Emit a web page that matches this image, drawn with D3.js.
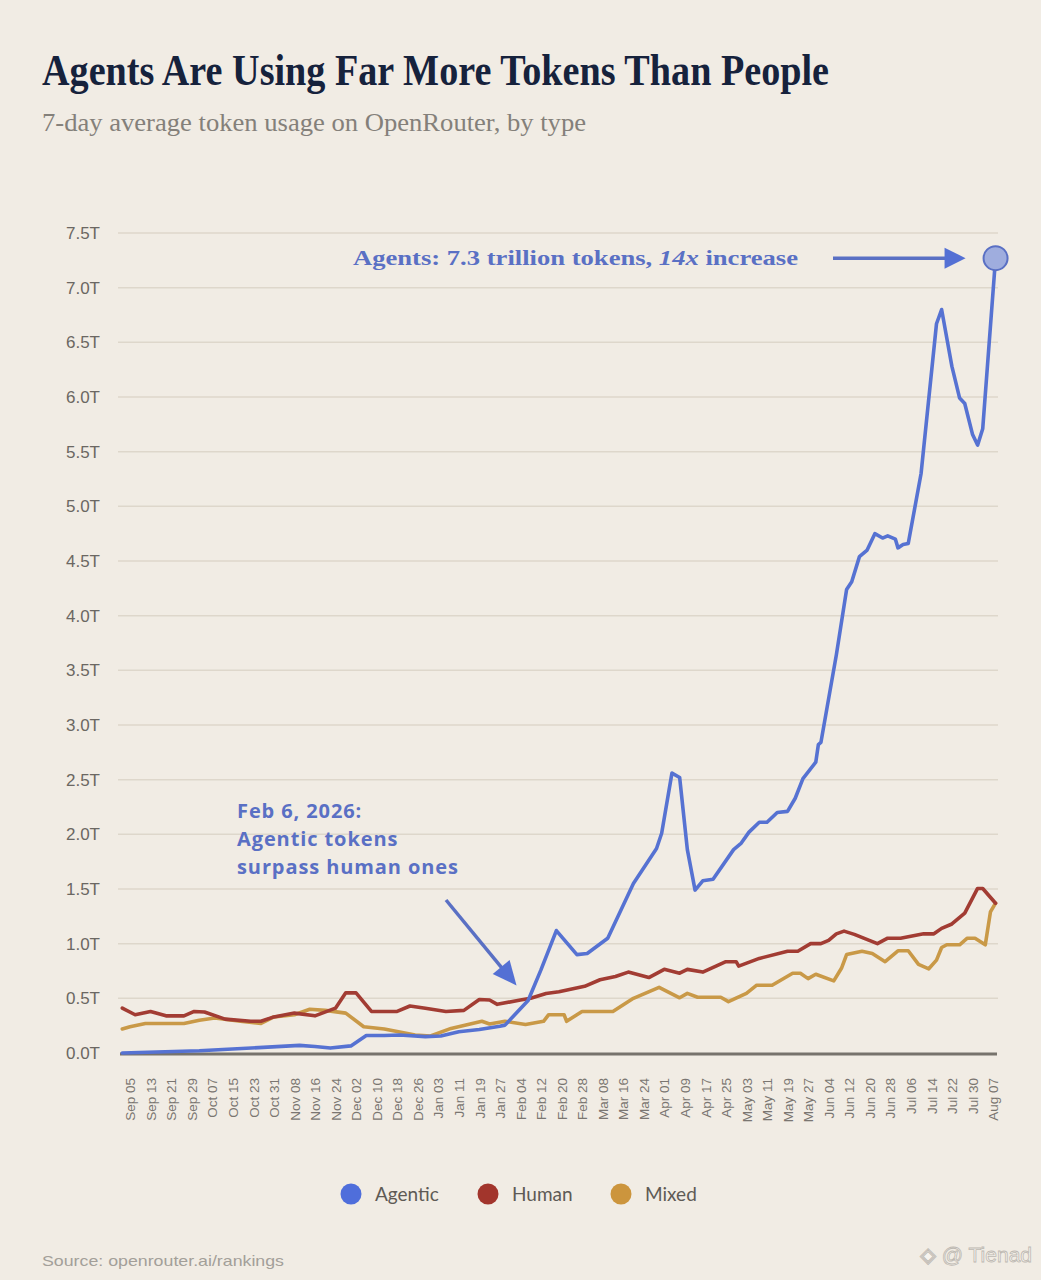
<!DOCTYPE html>
<html>
<head>
<meta charset="utf-8">
<script src="https://cdn.jsdelivr.net/npm/d3@7"></script>
<style>
  body { margin: 0; background: #f1ece4; }
  svg { display: block; }
</style>
</head>
<body>
<div id="chart"></div>
<script>
// values in trillions of tokens
const agenticDates = [
  "2025-09-02", "2025-10-02", "2025-11-10", "2025-11-16", "2025-11-22", "2025-11-30",
  "2025-12-06", "2025-12-13", "2025-12-19", "2025-12-29", "2026-01-04", "2026-01-11",
  "2026-01-19", "2026-01-27", "2026-01-29", "2026-02-07", "2026-02-12", "2026-02-18",
  "2026-02-26", "2026-03-02", "2026-03-10", "2026-03-20", "2026-03-29", "2026-03-31",
  "2026-04-04", "2026-04-07", "2026-04-10", "2026-04-13", "2026-04-16", "2026-04-20",
  "2026-04-28", "2026-05-01", "2026-05-04", "2026-05-08", "2026-05-11", "2026-05-15",
  "2026-05-19", "2026-05-22", "2026-05-25", "2026-05-30", "2026-05-31", "2026-06-01",
  "2026-06-07", "2026-06-11", "2026-06-13", "2026-06-16", "2026-06-19", "2026-06-22",
  "2026-06-25", "2026-06-27", "2026-06-30", "2026-07-01", "2026-07-03", "2026-07-05",
  "2026-07-10", "2026-07-16", "2026-07-18", "2026-07-22", "2026-07-25", "2026-07-27",
  "2026-07-30", "2026-08-01", "2026-08-03", "2026-08-08"
];
const agenticValues = [
  0.00, 0.02, 0.07, 0.06, 0.045, 0.065,
  0.16, 0.16, 0.165, 0.15, 0.155, 0.195,
  0.215, 0.245, 0.255, 0.48, 0.76, 1.12,
  0.90, 0.91, 1.05, 1.55, 1.87, 2.01,
  2.56, 2.52, 1.86, 1.49, 1.575, 1.59,
  1.86, 1.92, 2.02, 2.11, 2.11, 2.20,
  2.21, 2.33, 2.51, 2.66, 2.82, 2.84,
  3.64, 4.24, 4.31, 4.54, 4.60, 4.75,
  4.71, 4.73, 4.70, 4.62, 4.65, 4.66,
  5.30, 6.67, 6.80, 6.28, 5.99, 5.94,
  5.66, 5.56, 5.71, 7.27
];

const humanDates = [
  "2025-09-02", "2025-09-07", "2025-09-13", "2025-09-19", "2025-09-26", "2025-09-30",
  "2025-10-04", "2025-10-12", "2025-10-22", "2025-10-26", "2025-10-31", "2025-11-08",
  "2025-11-16", "2025-11-24", "2025-11-28", "2025-12-02", "2025-12-08", "2025-12-18",
  "2025-12-23", "2025-12-29", "2026-01-06", "2026-01-13", "2026-01-19", "2026-01-23",
  "2026-01-26", "2026-02-04", "2026-02-08", "2026-02-14", "2026-02-19", "2026-03-01",
  "2026-03-07", "2026-03-13", "2026-03-18", "2026-03-26", "2026-04-01", "2026-04-07",
  "2026-04-10", "2026-04-16", "2026-04-25", "2026-04-29", "2026-04-30", "2026-05-08",
  "2026-05-19", "2026-05-23", "2026-05-28", "2026-06-01", "2026-06-04", "2026-06-07",
  "2026-06-10", "2026-06-14", "2026-06-23", "2026-06-27", "2026-07-02", "2026-07-11",
  "2026-07-15", "2026-07-18", "2026-07-22", "2026-07-27", "2026-08-01", "2026-08-03",
  "2026-08-08"
];
const humanValues = [
  0.41, 0.35, 0.38, 0.34, 0.34, 0.38,
  0.375, 0.31, 0.29, 0.29, 0.33, 0.365,
  0.34, 0.41, 0.55, 0.55, 0.38, 0.38,
  0.43, 0.41, 0.38, 0.39, 0.49, 0.485,
  0.445, 0.485, 0.50, 0.545, 0.56, 0.61,
  0.67, 0.70, 0.74, 0.69, 0.765, 0.73,
  0.765, 0.74, 0.835, 0.835, 0.795, 0.865,
  0.93, 0.93, 1.00, 1.00, 1.03, 1.09,
  1.115, 1.085, 1.00, 1.05, 1.05, 1.09,
  1.09, 1.14, 1.18, 1.28, 1.505, 1.505,
  1.37
];

const mixedDates = [
  "2025-09-02", "2025-09-05", "2025-09-11", "2025-09-26", "2025-10-02", "2025-10-08",
  "2025-10-18", "2025-10-26", "2025-10-31", "2025-11-08", "2025-11-14", "2025-11-20",
  "2025-11-28", "2025-12-05", "2025-12-13", "2025-12-25", "2025-12-31", "2026-01-08",
  "2026-01-20", "2026-01-23", "2026-01-29", "2026-02-06", "2026-02-13", "2026-02-15",
  "2026-02-21", "2026-02-22", "2026-02-28", "2026-03-12", "2026-03-20", "2026-03-30",
  "2026-04-07", "2026-04-10", "2026-04-14", "2026-04-23", "2026-04-26", "2026-05-03",
  "2026-05-07", "2026-05-13", "2026-05-21", "2026-05-24", "2026-05-27", "2026-05-30",
  "2026-06-06", "2026-06-09", "2026-06-11", "2026-06-17", "2026-06-21", "2026-06-26",
  "2026-07-01", "2026-07-05", "2026-07-09", "2026-07-13", "2026-07-16", "2026-07-18",
  "2026-07-20", "2026-07-25", "2026-07-28", "2026-07-31", "2026-08-04", "2026-08-06",
  "2026-08-08"
];
const mixedValues = [
  0.22, 0.24, 0.27, 0.27, 0.30, 0.32,
  0.29, 0.27, 0.33, 0.35, 0.40, 0.39,
  0.365, 0.24, 0.22, 0.165, 0.155, 0.225,
  0.29, 0.265, 0.29, 0.26, 0.29, 0.35,
  0.35, 0.29, 0.38, 0.38, 0.50, 0.60,
  0.505, 0.545, 0.51, 0.51, 0.47, 0.545,
  0.62, 0.62, 0.73, 0.73, 0.68, 0.72,
  0.66, 0.775, 0.90, 0.93, 0.91, 0.835,
  0.935, 0.935, 0.81, 0.77, 0.85, 0.965,
  0.99, 0.99, 1.05, 1.05, 0.99, 1.29,
  1.37
];

const seriesNames = ["Agentic", "Human", "Mixed"];
const seriesColors = ["#5672d2", "#a23c33", "#c99947"];

const xTickLabels = [
  "Sep 05", "Sep 13", "Sep 21", "Sep 29", "Oct 07", "Oct 15", "Oct 23", "Oct 31",
  "Nov 08", "Nov 16", "Nov 24", "Dec 02", "Dec 10", "Dec 18", "Dec 26", "Jan 03",
  "Jan 11", "Jan 19", "Jan 27", "Feb 04", "Feb 12", "Feb 20", "Feb 28", "Mar 08",
  "Mar 16", "Mar 24", "Apr 01", "Apr 09", "Apr 17", "Apr 25", "May 03", "May 11",
  "May 19", "May 27", "Jun 04", "Jun 12", "Jun 20", "Jun 28", "Jul 06", "Jul 14",
  "Jul 22", "Jul 30", "Aug 07"
];
const yTickValues = [0, 0.5, 1, 1.5, 2, 2.5, 3, 3.5, 4, 4.5, 5, 5.5, 6, 6.5, 7, 7.5];

const w = 1041;
const h = 1280;
const parseDate = d3.timeParse("%Y-%m-%d");
const parseTick = d3.timeParse("%b %d %Y");
const lateMonths = ["Sep", "Oct", "Nov", "Dec"];
const tickDates = xTickLabels.map(l => parseTick(l + " " + (lateMonths.includes(l.slice(0, 3)) ? 2025 : 2026)));

const series = [
  { name: seriesNames[0], color: seriesColors[0], pts: agenticDates.map((d, i) => ({ date: parseDate(d), v: agenticValues[i] })) },
  { name: seriesNames[1], color: seriesColors[1], pts: humanDates.map((d, i) => ({ date: parseDate(d), v: humanValues[i] })) },
  { name: seriesNames[2], color: seriesColors[2], pts: mixedDates.map((d, i) => ({ date: parseDate(d), v: mixedValues[i] })) }
];

const xScale = d3.scaleTime()
  .domain([tickDates[0], tickDates[tickDates.length - 1]])
  .range([130, 993]);

const yScale = d3.scaleLinear()
  .domain([0, 7.5])
  .range([1053, 233]);

const svg = d3.select("#chart")
  .append("svg")
  .attr("width", w)
  .attr("height", h)
  .style("background-color", "#f1ece4");

// title + subtitle
svg.append("text")
  .attr("x", 42)
  .attr("y", 85)
  .attr("font-family", "'Liberation Serif', 'DejaVu Serif', serif")
  .attr("font-weight", "bold")
  .attr("font-size", 44)
  .attr("fill", "#16223c")
  .attr("textLength", 787)
  .attr("lengthAdjust", "spacingAndGlyphs")
  .text("Agents Are Using Far More Tokens Than People");

svg.append("text")
  .attr("x", 42)
  .attr("y", 131)
  .attr("font-family", "'Liberation Serif', 'DejaVu Serif', serif")
  .attr("font-size", 26)
  .attr("fill", "#84807a")
  .attr("textLength", 544)
  .attr("lengthAdjust", "spacingAndGlyphs")
  .text("7-day average token usage on OpenRouter, by type");

// gridlines
svg.append("g")
  .selectAll("line")
  .data(yTickValues.filter(v => v > 0))
  .enter()
  .append("line")
  .attr("x1", 118)
  .attr("x2", 998)
  .attr("y1", d => yScale(d))
  .attr("y2", d => yScale(d))
  .attr("stroke", "#ded7cb")
  .attr("stroke-width", 1.5);

// y axis labels
const yAxis = d3.axisLeft(yScale)
  .tickValues(yTickValues)
  .tickSize(0)
  .tickPadding(0)
  .tickFormat(d => d3.format(".1f")(d) + "T");

svg.append("g")
  .attr("id", "y-axis")
  .attr("transform", "translate(100, 0)")
  .call(yAxis)
  .call(g => g.select(".domain").remove())
  .call(g => g.selectAll("text")
    .attr("font-family", "'Liberation Sans', Arial, sans-serif")
    .attr("font-size", 17)
    .attr("fill", "#6b6762"));

// x axis labels
const xAxis = d3.axisBottom(xScale)
  .tickValues(tickDates)
  .tickSize(0)
  .tickFormat((d, i) => xTickLabels[i]);

svg.append("g")
  .attr("id", "x-axis")
  .attr("transform", "translate(0, 1078)")
  .call(xAxis)
  .call(g => g.select(".domain").remove())
  .call(g => g.selectAll("text")
    .attr("font-family", "'Liberation Sans', Arial, sans-serif")
    .attr("font-size", 13.5)
    .attr("fill", "#7a7671")
    .attr("text-anchor", "end")
    .attr("transform", "rotate(-90)")
    .attr("x", 0)
    .attr("y", 0)
    .attr("dy", "0.35em"));

// zero baseline
svg.append("line")
  .attr("x1", 120)
  .attr("x2", 997)
  .attr("y1", yScale(0) + 1)
  .attr("y2", yScale(0) + 1)
  .attr("stroke", "#77736c")
  .attr("stroke-width", 3);

// lines (mixed under human under agentic)
const line = d3.line()
  .x(d => xScale(d.date))
  .y(d => yScale(d.v));

svg.append("g")
  .selectAll("path")
  .data(series.slice().reverse())
  .enter()
  .append("path")
  .attr("d", d => line(d.pts))
  .attr("fill", "none")
  .attr("stroke", d => d.color)
  .attr("stroke-width", 3.6)
  .attr("stroke-linejoin", "round")
  .attr("stroke-linecap", "round");

// top annotation
const blue = "#5a70c4";
const last = series[0].pts[series[0].pts.length - 1];
const endX = xScale(last.date);
const endY = yScale(last.v);

const topNote = svg.append("text")
  .attr("x", 353)
  .attr("y", endY + 7)
  .attr("font-family", "'Liberation Serif', 'DejaVu Serif', serif")
  .attr("font-weight", "bold")
  .attr("font-size", 22)
  .attr("fill", blue)
  .attr("textLength", 445)
  .attr("lengthAdjust", "spacingAndGlyphs");
topNote.append("tspan").text("Agents: 7.3 trillion tokens, ");
topNote.append("tspan").attr("font-style", "italic").text("14x");
topNote.append("tspan").text(" increase");

svg.append("line")
  .attr("x1", 833)
  .attr("x2", endX - 48)
  .attr("y1", endY)
  .attr("y2", endY)
  .attr("stroke", blue)
  .attr("stroke-width", 3.5);
svg.append("path")
  .attr("d", `M${endX - 51},${endY - 10.5}L${endX - 51},${endY + 10.5}L${endX - 30},${endY}Z`)
  .attr("fill", "#5470d4");

svg.append("circle")
  .attr("cx", endX)
  .attr("cy", endY)
  .attr("r", 12)
  .attr("fill", "#9fadde")
  .attr("stroke", "#5a70c4")
  .attr("stroke-width", 2);

// crossover annotation
const noteLines = ["Feb 6, 2026:", "Agentic tokens", "surpass human ones"];
svg.append("g")
  .selectAll("text")
  .data(noteLines)
  .enter()
  .append("text")
  .attr("x", 237)
  .attr("y", (d, i) => 818 + i * 28)
  .attr("font-family", "'Open Sans', 'DejaVu Sans', sans-serif")
  .attr("font-weight", "bold")
  .attr("font-size", 20)
  .attr("letter-spacing", 0.9)
  .attr("fill", blue)
  .text(d => d);

const crossX = xScale(parseDate("2026-02-06"));
const crossY = yScale(0.49);
const tipX = crossX - 9;
const tipY = crossY - 14;
const ang = Math.atan2(85, 71);
const ux = Math.cos(ang), uy = Math.sin(ang);
const headLen = 24, headHalf = 11;
const baseX = tipX - ux * headLen, baseY = tipY - uy * headLen;
svg.append("line")
  .attr("x1", 446)
  .attr("y1", 900)
  .attr("x2", baseX + ux * 2)
  .attr("y2", baseY + uy * 2)
  .attr("stroke", blue)
  .attr("stroke-width", 3.5);
svg.append("path")
  .attr("d", `M${tipX},${tipY}L${baseX - uy * headHalf},${baseY + ux * headHalf}L${baseX + uy * headHalf},${baseY - ux * headHalf}Z`)
  .attr("fill", "#5470d4");

// legend
const legendX = [351, 488, 621];
const legend = svg.append("g")
  .attr("id", "legend")
  .selectAll("g")
  .data(series)
  .enter()
  .append("g")
  .attr("transform", (d, i) => `translate(${legendX[i]}, 1194)`);
legend.append("circle")
  .attr("r", 10.5)
  .attr("fill", (d, i) => ["#4f6edb", "#a2352c", "#cc953d"][i]);
legend.append("text")
  .attr("x", 24)
  .attr("y", 7)
  .attr("font-family", "Lato, 'Open Sans', sans-serif")
  .attr("font-size", 19)
  .attr("fill", "#5e5a55")
  .text(d => d.name);

// source + watermark
svg.append("text")
  .attr("x", 42)
  .attr("y", 1266)
  .attr("font-family", "'Liberation Sans', Arial, sans-serif")
  .attr("font-size", 15)
  .attr("fill", "#a39f99")
  .attr("textLength", 242)
  .attr("lengthAdjust", "spacingAndGlyphs")
  .text("Source: openrouter.ai/rankings");

svg.append("text")
  .attr("x", 1032)
  .attr("y", 1262)
  .attr("text-anchor", "end")
  .attr("font-family", "'Liberation Sans', Arial, sans-serif")
  .attr("font-size", 21)
  .attr("fill", "#f7f4ef")
  .attr("stroke", "#bdb8b1")
  .attr("stroke-width", 0.8)
  .text("◈ @ Tienad");
</script>
</body>
</html>
